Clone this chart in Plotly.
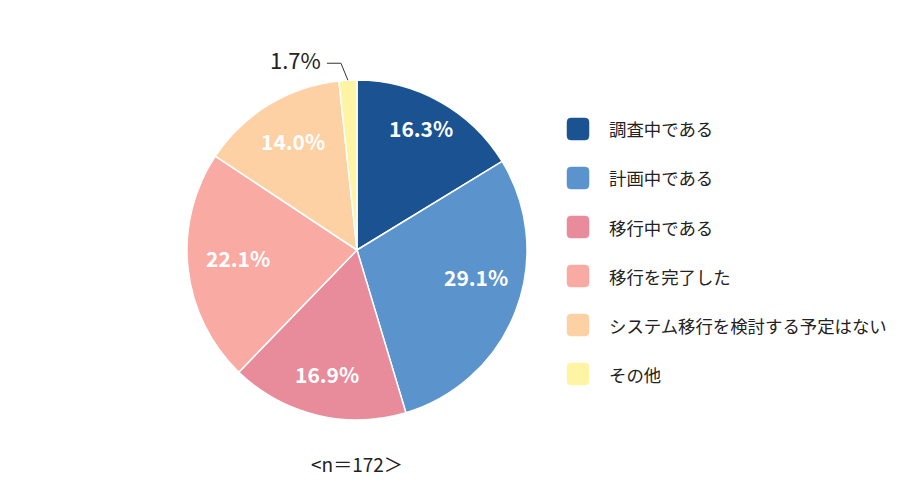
import math
import plotly.graph_objects as go

categories = ["調査中である", "計画中である", "移行中である", "移行を完了した",
              "システム移行を検討する予定はない", "その他"]
values = [16.3, 29.1, 16.9, 22.1, 14.0, 1.7]
colors = ["#1b5392", "#5b93cd", "#e88b9b", "#f9aba3", "#fdd1a3", "#fff4a3"]
note = "<n＝172＞"

# label placement style (radius fraction, angular nudge in degrees)
label_r = [0.81, 0.72, 0.75, 0.70, 0.74]
label_da = [-1.6, -8.3, 0.0, 2.4, 0.9]

OFF = 8  # page body margin
W, H = 900 - 2 * OFF, 503 - 2 * OFF
CX, CY, R = 357, 250, 170
FONT = "Noto Sans CJK JP, Noto Sans, sans-serif"


def px(x):
    return (x - OFF) / W


def py(y):
    return 1 - (y - OFF) / H


fig = go.Figure(go.Pie(
    labels=categories, values=values, sort=False, direction="clockwise",
    rotation=0, marker=dict(colors=colors, line=dict(color="white", width=1.5)),
    textinfo="none", hoverinfo="label+percent", showlegend=False,
    domain=dict(x=[px(CX - R), px(CX + R)], y=[py(CY + R), py(CY - R)]),
))

annotations = []
shapes = []
total = sum(values)
cum = 0.0
for i, v in enumerate(values):
    mid = (cum + v / 2) / total * 2 * math.pi
    cum += v
    label = f"{v:.1f}%"
    if v >= 5:
        r = label_r[i] * R
        a = mid + math.radians(label_da[i])
        x = CX + r * math.sin(a)
        y = CY - r * math.cos(a)
        annotations.append(dict(x=px(x), y=py(y), xref="paper", yref="paper",
                                text=label, showarrow=False,
                                font=dict(family=FONT, size=21, color="white", weight=600),
                                xanchor="center", yanchor="middle"))
    else:
        ex = CX + R * math.sin(mid)
        ey = CY - R * math.cos(mid)
        kx, ky = ex - 7, ey - 17
        hx = kx - 14
        shapes.append(dict(type="path", xref="paper", yref="paper",
                           path=f"M {px(ex)} {py(ey)} L {px(kx)} {py(ky)} L {px(hx)} {py(ky)}",
                           line=dict(color="#333333", width=1)))
        annotations.append(dict(x=px(hx - 4), y=py(ky - 4), xref="paper", yref="paper",
                                text=label, showarrow=False,
                                font=dict(family=FONT, size=22, color="#222222"),
                                xanchor="right", yanchor="middle"))

# custom legend
LX, LY0, DY, S = 567, 129, 49, 22
for i, (c, col) in enumerate(zip(categories, colors)):
    yc = LY0 + i * DY
    x0, x1 = LX, LX + S
    y0, y1 = yc - S / 2, yc + S / 2
    rr = 4
    path = (f"M {px(x0 + rr)} {py(y0)} L {px(x1 - rr)} {py(y0)} "
            f"Q {px(x1)} {py(y0)} {px(x1)} {py(y0 + rr)} L {px(x1)} {py(y1 - rr)} "
            f"Q {px(x1)} {py(y1)} {px(x1 - rr)} {py(y1)} L {px(x0 + rr)} {py(y1)} "
            f"Q {px(x0)} {py(y1)} {px(x0)} {py(y1 - rr)} L {px(x0)} {py(y0 + rr)} "
            f"Q {px(x0)} {py(y0)} {px(x0 + rr)} {py(y0)} Z")
    shapes.append(dict(type="path", xref="paper", yref="paper", path=path,
                       fillcolor=col, line=dict(color=col, width=0.5)))
    annotations.append(dict(x=px(607), y=py(yc), xref="paper", yref="paper",
                            text=c, showarrow=False, xanchor="left", yanchor="middle",
                            font=dict(family=FONT, size=17.4, color="#222222")))

annotations.append(dict(x=px(CX), y=py(463), xref="paper", yref="paper", text=note,
                        showarrow=False, xanchor="center", yanchor="middle",
                        font=dict(family=FONT, size=19, color="#222222")))

fig.update_layout(width=W, height=H, margin=dict(l=0, r=0, t=0, b=0),
                  paper_bgcolor="white", plot_bgcolor="white",
                  annotations=annotations, shapes=shapes)
fig.write_html("out.html")
